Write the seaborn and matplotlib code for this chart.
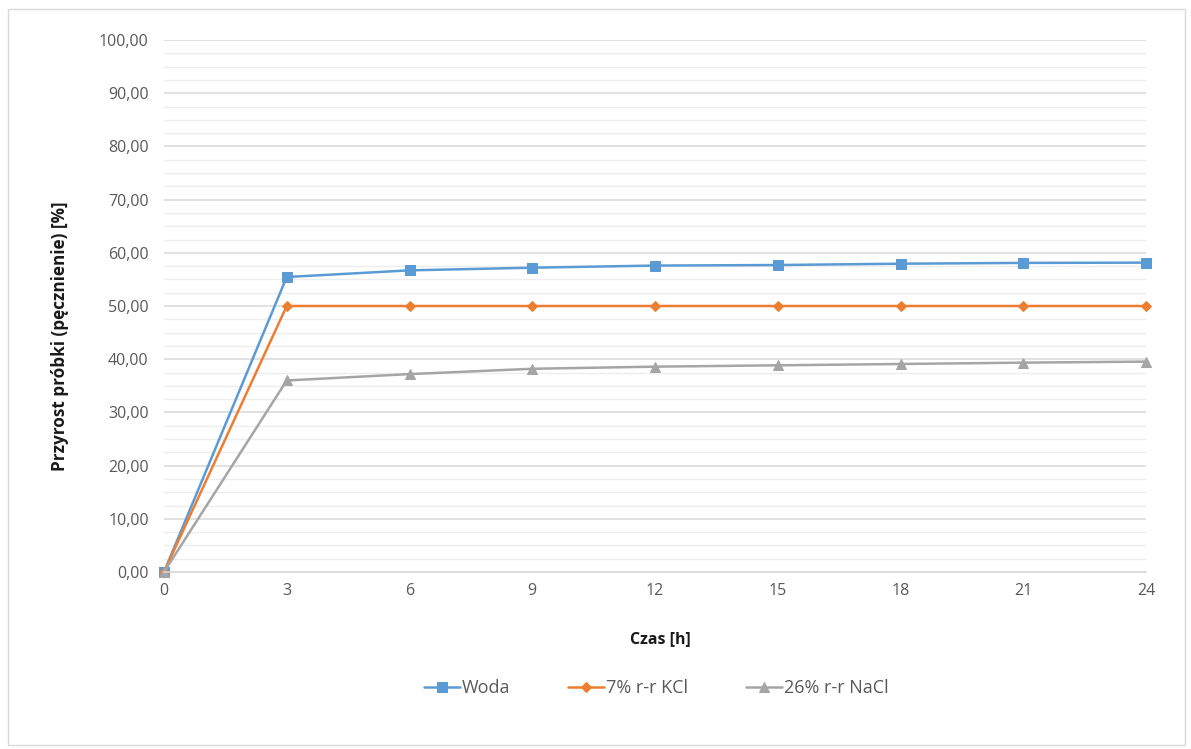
import matplotlib
matplotlib.use("Agg")
import matplotlib.pyplot as plt
from matplotlib.ticker import FuncFormatter, MultipleLocator
from matplotlib.patches import Rectangle
import pandas as pd
import seaborn as sns

# Swelling measurements over time
czas = [0, 3, 6, 9, 12, 15, 18, 21, 24]
woda = [0.0, 55.45, 56.7, 57.2, 57.6, 57.7, 57.95, 58.1, 58.15]
kcl = [0.0, 50.0, 50.0, 50.0, 50.0, 50.0, 50.0, 50.0, 50.0]
nacl = [0.0, 36.0, 37.2, 38.2, 38.6, 38.85, 39.1, 39.35, 39.55]

series_names = ["Woda", "7% r-r KCl", "26% r-r NaCl"]
series_colors = ["#5B9BD5", "#ED7D31", "#A5A5A5"]
series_markers = ["s", "D", "^"]
marker_sizes = [7.5, 5.5, 7.5]

df = pd.DataFrame({
    "Czas": czas * 3,
    "Wartosc": woda + kcl + nacl,
    "Seria": [series_names[0]] * len(czas) + [series_names[1]] * len(czas) + [series_names[2]] * len(czas),
})

sns.set_theme(style="white")
plt.rcParams["font.family"] = ["Open Sans", "DejaVu Sans"]

fig = plt.figure(figsize=(11.91, 7.49), dpi=100)
ax = fig.add_axes([164 / 1191, 1 - 572 / 749, (1146 - 164) / 1191, (572 - 40) / 749])

# Gridlines: major every 10, minor every 2.5
ax.yaxis.set_major_locator(MultipleLocator(10))
ax.yaxis.set_minor_locator(MultipleLocator(2.5))
ax.grid(which="major", axis="y", color="#D9D9D9", linewidth=1.1)
ax.grid(which="minor", axis="y", color="#EDEDED", linewidth=1.0)
ax.set_axisbelow(True)

for name, col, mk, ms in zip(series_names, series_colors, series_markers, marker_sizes):
    sub = df[df["Seria"] == name]
    sns.lineplot(data=sub, x="Czas", y="Wartosc", ax=ax, color=col, marker=mk,
                 markersize=ms, markeredgecolor=col, linewidth=1.8, label=name,
                 legend=False)

ax.set_xlim(0, 24)
ax.set_ylim(0, 100)
ax.set_xticks(czas)
ax.xaxis.set_major_formatter(FuncFormatter(lambda v, p: f"{int(v)}"))
ax.yaxis.set_major_formatter(FuncFormatter(lambda v, p: f"{v:.2f}".replace(".", ",")))

for side in ["top", "right", "left"]:
    ax.spines[side].set_visible(False)
ax.spines["bottom"].set_color("#D9D9D9")
ax.spines["bottom"].set_linewidth(1.1)
ax.tick_params(axis="both", which="both", length=0, labelsize=11.5, labelcolor="#595959")
ax.tick_params(axis="x", pad=8)
ax.tick_params(axis="y", pad=11)

ax.set_xlabel("Czas [h]", fontsize=11.5, fontweight="bold", color="#1a1a1a")
ax.xaxis.set_label_coords((660 - 164) / 982, -(631 - 572) / 532)
ax.set_ylabel("Przyrost próbki (pęcznienie) [%]", fontsize=12.3, fontweight="bold",
              color="#1a1a1a")
ax.yaxis.set_label_coords((69 - 164) / 982, (572 - 336) / 532)
ax.margins(x=0)
for ln in ax.lines:
    ln.set_clip_on(False)

handles, labels = ax.get_legend_handles_labels()
fig.legend(handles, labels, loc="center", bbox_to_anchor=(656 / 1191, 1 - 688 / 749),
           ncol=3, frameon=False, fontsize=13, labelcolor="#595959",
           handlelength=2.0, handletextpad=0.1, columnspacing=3.2)

# Chart border
fig.patches.append(Rectangle((8 / 1191, 4 / 749), 1177 / 1191, 736 / 749,
                             transform=fig.transFigure, fill=False,
                             edgecolor="#D9D9D9", linewidth=1.0))

fig.savefig("out.png", dpi=100, facecolor="white")
